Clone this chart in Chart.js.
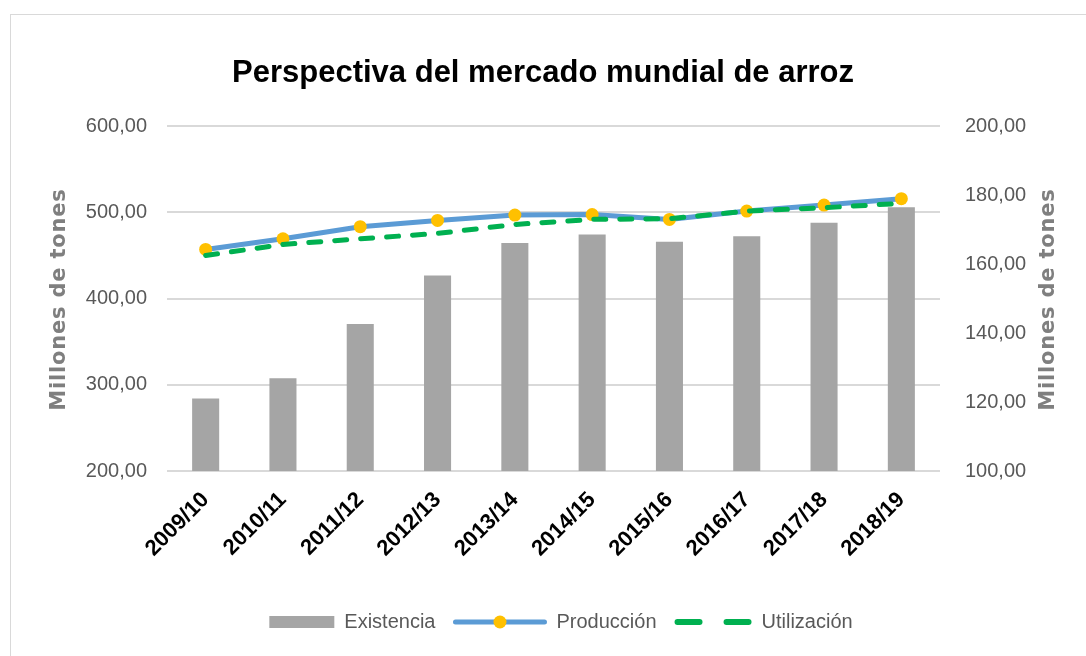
<!DOCTYPE html>
<html>
<head>
<meta charset="utf-8">
<script src="https://cdn.jsdelivr.net/npm/chart.js@4.4.0/dist/chart.umd.min.js"></script>
<style>
  html, body { margin: 0; padding: 0; background: #fff; overflow: hidden; }
  #wrap { position: relative; width: 1086px; height: 656px; }
  #marco { position: absolute; left: 10px; top: 14px; width: 1100px; height: 700px; border: 1px solid #d9d9d9; box-sizing: border-box; }
  canvas { position: absolute; left: 0; top: 0; }
</style>
</head>
<body>
<div id="wrap">
  <div id="marco"></div>
  <canvas id="grafico" width="1086" height="656"></canvas>
</div>
<script>
// Datos (millones de toneladas)
const campanas = ['2009/10', '2010/11', '2011/12', '2012/13', '2013/14', '2014/15', '2015/16', '2016/17', '2017/18', '2018/19'];
const existencia = [121.0, 126.9, 142.6, 156.7, 166.1, 168.6, 166.5, 168.1, 172.0, 176.5];
const produccion = [457.0, 469.4, 483.4, 490.7, 496.9, 497.5, 491.9, 501.5, 508.5, 515.9];
const utilizacion = [450.0, 462.8, 469.4, 475.6, 486.0, 491.9, 492.7, 501.5, 505.4, 510.5];
const ejeIzq = [200, 600, 100];   // min, max, paso
const ejeDer = [100, 200, 20];
const tituloEje = 'Millones de tones';

const formato = v => v.toFixed(2).replace('.', ',');

// Titulos de ejes y leyenda dibujados a mano (estilo Excel)
const extras = {
  id: 'extras',
  afterDraw(chart) {
    const ctx = chart.ctx;
    const area = chart.chartArea;
    const midY = (area.top + area.bottom) / 2 + 1;
    ctx.save();
    ctx.font = 'bold 21px "DejaVu Sans"';
    ctx.letterSpacing = '0.8px';
    ctx.fillStyle = '#7f7f7f';
    ctx.textAlign = 'center';
    ctx.textBaseline = 'middle';
    [chart.scales.y.left + 60, chart.scales.y1.right - 37].forEach(x => {
      ctx.save();
      ctx.translate(x, midY);
      ctx.rotate(-Math.PI / 2);
      ctx.fillText(tituloEje, 0, 0);
      ctx.restore();
    });
    ctx.letterSpacing = '0px';

    // leyenda
    const ds = chart.data.datasets;
    ctx.font = '20px "Liberation Sans"';
    ctx.textAlign = 'left';
    const anchos = [65, 93, 77];
    const textos = ds.map(d => ctx.measureText(d.label).width);
    let total = 0;
    anchos.forEach((a, i) => { total += a + 10 + textos[i] + (i < 2 ? 18 : 0); });
    let x = chart.width / 2 + 18 - total / 2;
    const y = 622;
    ds.forEach((d, i) => {
      if (i === 0) {
        ctx.fillStyle = d.backgroundColor;
        ctx.fillRect(x, y - 6, anchos[0], 12);
      } else if (i === 1) {
        ctx.strokeStyle = d.borderColor;
        ctx.lineWidth = 5;
        ctx.lineCap = 'round';
        ctx.beginPath(); ctx.moveTo(x + 2, y); ctx.lineTo(x + anchos[1] - 2, y); ctx.stroke();
        ctx.fillStyle = d.pointBackgroundColor;
        ctx.beginPath(); ctx.arc(x + anchos[1] / 2, y, 6.5, 0, Math.PI * 2); ctx.fill();
      } else {
        ctx.strokeStyle = d.borderColor;
        ctx.lineWidth = 6;
        ctx.lineCap = 'round';
        ctx.beginPath();
        ctx.moveTo(x + 3, y); ctx.lineTo(x + 25, y);
        ctx.moveTo(x + 52, y); ctx.lineTo(x + anchos[2] - 3, y);
        ctx.stroke();
      }
      x += anchos[i] + 10;
      ctx.fillStyle = '#595959';
      ctx.fillText(d.label, x, y);
      x += textos[i] + 18;
    });
    ctx.restore();
  }
};

new Chart(document.getElementById('grafico'), {
  type: 'bar',
  data: {
    labels: campanas,
    datasets: [
      {
        type: 'bar',
        label: 'Existencia',
        data: existencia,
        yAxisID: 'y1',
        backgroundColor: '#a5a5a5',
        barPercentage: 0.35,
        categoryPercentage: 1,
        order: 3
      },
      {
        type: 'line',
        label: 'Producción',
        data: produccion,
        yAxisID: 'y',
        borderColor: '#5b9bd5',
        borderWidth: 5,
        tension: 0,
        pointRadius: 6.5,
        pointBackgroundColor: '#ffc000',
        pointBorderColor: '#ffc000',
        pointBorderWidth: 0,
        order: 2
      },
      {
        type: 'line',
        label: 'Utilización',
        data: utilizacion,
        yAxisID: 'y',
        borderColor: '#00b050',
        borderWidth: 5,
        borderDash: [12, 14],
        borderCapStyle: 'round',
        tension: 0,
        pointRadius: 0,
        order: 1
      }
    ]
  },
  options: {
    responsive: false,
    animation: false,
    layout: { padding: 0 },
    plugins: {
      legend: { display: false },
      tooltip: { enabled: false },
      title: {
        display: true,
        text: 'Perspectiva del mercado mundial de arroz',
        color: '#000',
        font: { family: '"Liberation Sans"', size: 31, weight: 'bold' },
        padding: { top: 55, bottom: 34 }
      }
    },
    scales: {
      x: {
        grid: { display: false },
        border: { display: false },
        ticks: {
          color: '#000',
          font: { family: '"Liberation Sans"', size: 22, weight: 'bold' },
          minRotation: 45,
          maxRotation: 45,
          autoSkip: false,
          padding: 8
        },
        afterFit: s => { s.height = 185; }
      },
      y: {
        position: 'left',
        min: ejeIzq[0],
        max: ejeIzq[1],
        grid: { color: '#d9d9d9', lineWidth: 2, drawTicks: false },
        border: { display: false },
        ticks: {
          stepSize: ejeIzq[2],
          color: '#595959',
          font: { family: '"Liberation Sans"', size: 20 },
          padding: 20,
          callback: formato
        },
        afterFit: s => { s.width = 167; }
      },
      y1: {
        position: 'right',
        min: ejeDer[0],
        max: ejeDer[1],
        grid: { display: false, drawTicks: false },
        border: { display: false },
        ticks: {
          stepSize: ejeDer[2],
          color: '#595959',
          font: { family: '"Liberation Sans"', size: 20 },
          padding: 25,
          callback: formato
        },
        afterFit: s => { s.width = 146; }
      }
    }
  },
  plugins: [extras]
});
</script>
</body>
</html>
